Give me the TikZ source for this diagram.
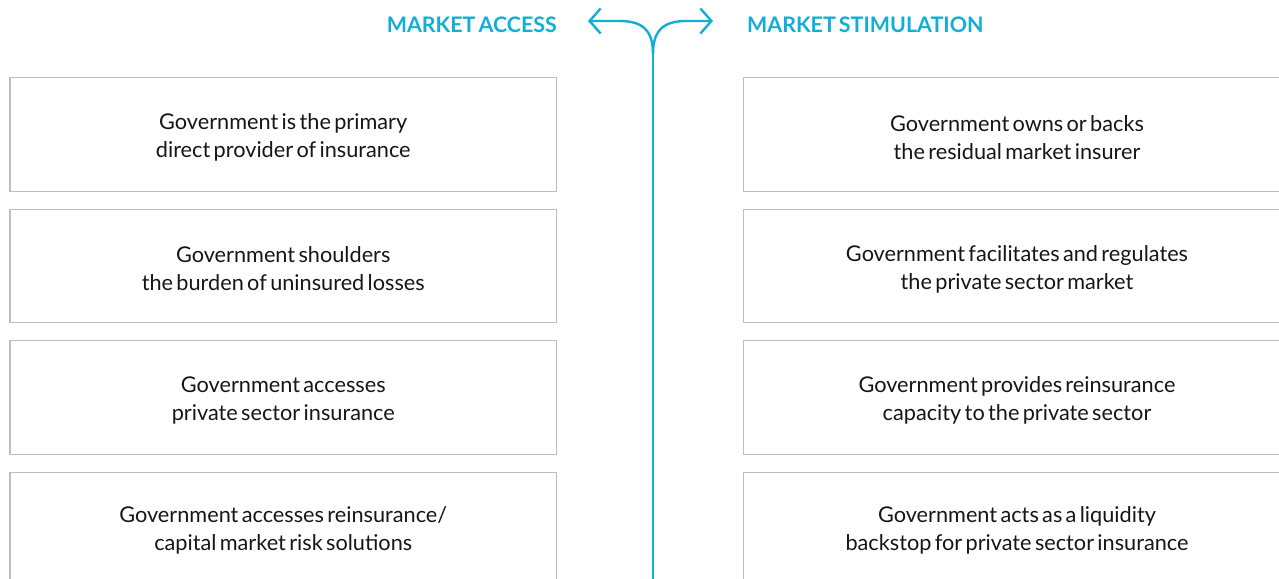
\documentclass[tikz,border=0pt]{standalone}
\usepackage{fontspec}
\setmainfont{Lato}[WordSpace=0.6]
\usetikzlibrary{arrows.meta}
\definecolor{cyanx}{HTML}{13AED6}
\definecolor{boxgray}{HTML}{BDBDBD}
\definecolor{txt}{HTML}{161616}
\begin{document}
\begin{tikzpicture}[x=1pt,y=-1pt,
  boxst/.style={draw=boxgray,line width=1.4pt,minimum width=546.5pt,minimum height=113.5pt,inner sep=0pt},
  bodyst/.style={text=txt,font=\fontsize{21.7}{28}\selectfont,align=center,inner sep=0pt},
  headst/.style={text=cyanx,font=\fontsize{21.4}{24}\selectfont\bfseries,inner sep=0pt},
  arr/.style={draw=cyanx,line width=2.4pt,-{Straight Barb[length=11pt,width=25pt,line width=2.4pt]}}]
\useasboundingbox (0,0) rectangle (1279,578);
% left column
\node[boxst] (l1) at (283.25,134.5) {};
\node[bodyst] (l1t) at (283.25,137.5) {Government is the primary\\direct provider of insurance};
\node[boxst] (l2) at (283.25,266) {};
\node[bodyst] (l2t) at (283.25,269) {Government shoulders\\the burden of uninsured losses};
\node[boxst] (l3) at (283.25,397.5) {};
\node[bodyst] (l3t) at (283.25,400.5) {Government accesses\\private sector insurance};
\node[boxst,minimum height=130pt,anchor=north] (l4) at (283.25,472) {};
\node[bodyst] (l4t) at (283.25,530) {Government accesses reinsurance/\\capital market risk solutions};
% right column
\node[boxst] (r1) at (1017,134.5) {};
\node[bodyst] (r1t) at (1017,137.5) {Government owns or backs\\the residual market insurer};
\node[boxst] (r2) at (1017,266) {};
\node[bodyst] (r2t) at (1017,269) {Government facilitates and regulates\\the private sector market};
\node[boxst] (r3) at (1017,397.5) {};
\node[bodyst] (r3t) at (1017,400.5) {Government provides reinsurance\\capacity to the private sector};
\node[boxst,minimum height=130pt,anchor=north] (r4) at (1017,472) {};
\node[bodyst] (r4t) at (1017,530) {Government acts as a liquidity\\backstop for private sector insurance};
% headers
\node[headst,anchor=east] (hl) at (557,25) {MARKET ACCESS};
\node[headst,anchor=west] (hr) at (747,25) {MARKET STIMULATION};
% arrow
\coordinate (base) at (653,580);
\coordinate (split) at (653,54);
\coordinate (ltip) at (588,21);
\coordinate (rtip) at (713,21);
\draw[draw=cyanx,line width=2.4pt] (base) -- (split);
\draw[arr] (split) .. controls (653,33) and (645,21) .. (620,21) -- (ltip);
\draw[arr] (split) .. controls (653,33) and (661,21) .. (686,21) -- (rtip);
\end{tikzpicture}
\end{document}
